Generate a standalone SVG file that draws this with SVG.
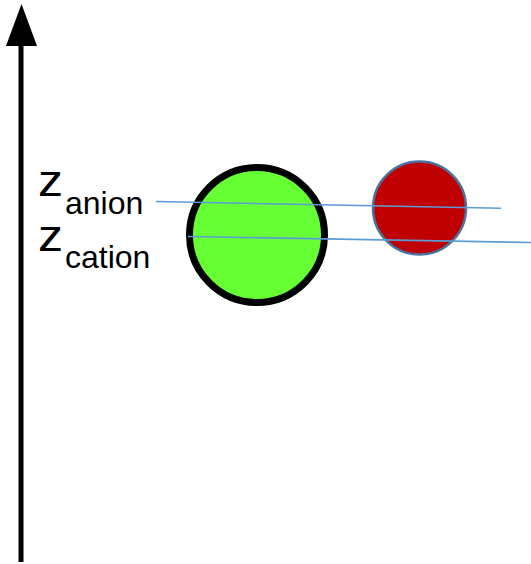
<svg xmlns="http://www.w3.org/2000/svg" width="531" height="564" viewBox="0 0 531 564">
<style>
.lbl{font-family:"Liberation Sans",Arial,sans-serif;fill:#000}
.big{font-size:44px}
.sub{font-size:32px}
.lvl{stroke:#5b9bd5;stroke-width:1.6;fill:none}
</style>
<rect width="531" height="564" fill="#fff"/>
<g id="axis">
<line x1="21" y1="562" x2="21" y2="44" stroke="#000" stroke-width="5"/>
<polygon points="21.5,4 6,46 37,46" fill="#000"/>
</g>
<g id="cation">
<circle cx="257" cy="235" r="67.5" fill="#66ff33" stroke="#000" stroke-width="7"/>
</g>
<g id="anion">
<circle cx="419.5" cy="208" r="46.5" fill="#c00000" stroke="#4a72a0" stroke-width="2.5"/>
</g>
<g id="connectors">
<line class="lvl" x1="156" y1="201.5" x2="501" y2="208.3"/>
<line class="lvl" x1="188" y1="236.5" x2="531" y2="242.5"/>
</g>
<g id="labels">
<text class="lbl big" x="38" y="196" textLength="25" lengthAdjust="spacingAndGlyphs">z</text>
<text class="lbl sub" x="65" y="214">anion</text>
<text class="lbl big" x="38" y="251" textLength="25" lengthAdjust="spacingAndGlyphs">z</text>
<text class="lbl sub" x="65" y="268">cation</text>
</g>
</svg>
